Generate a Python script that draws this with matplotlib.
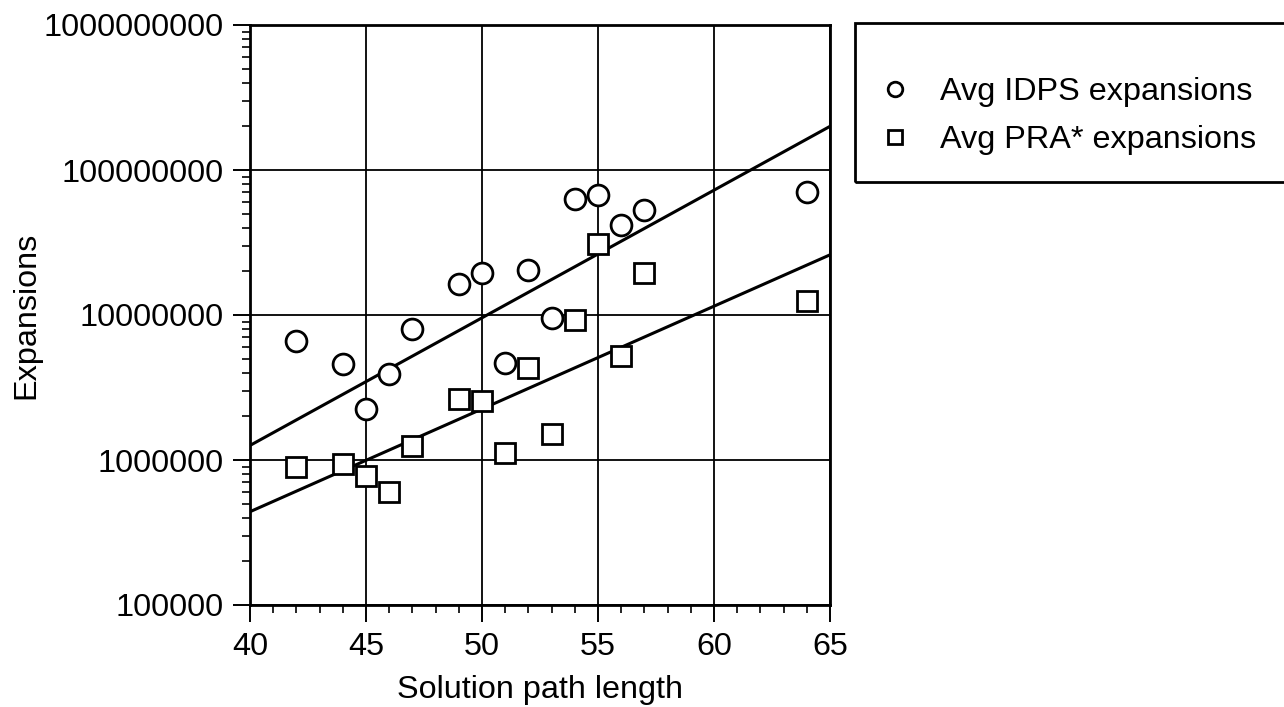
import numpy as np
import matplotlib
matplotlib.use("Agg")
import matplotlib.pyplot as plt
from matplotlib.ticker import FixedLocator, FuncFormatter, LogLocator, NullFormatter
from matplotlib.patches import Rectangle

plt.rcParams["font.family"] = ["Liberation Sans", "DejaVu Sans"]

# solution path length of each problem group
path_len = [42, 44, 45, 46, 47, 49, 50, 51, 52, 53, 54, 55, 56, 57, 64]

# average expansions
idps_exp = [6.6e6, 4.6e6, 2.25e6, 3.9e6, 8.0e6, 1.63e7, 1.96e7, 4.7e6,
            2.04e7, 9.6e6, 6.3e7, 6.7e7, 4.2e7, 5.3e7, 7.1e7]
pra_exp = [8.9e5, 9.4e5, 7.7e5, 6.0e5, 1.24e6, 2.64e6, 2.54e6, 1.12e6,
           4.3e6, 1.5e6, 9.2e6, 3.1e7, 5.2e6, 1.96e7, 1.24e7]

# fitted trend lines (ends at x = 40 and x = 65)
fit_x = [40, 65]
idps_fit = [1.26e6, 2.0e8]
pra_fit = [4.4e5, 2.6e7]

x_ticks = [40, 45, 50, 55, 60, 65]
y_ticks = [1e5, 1e6, 1e7, 1e8, 1e9]

FS = 23.3

fig = plt.figure(figsize=(12.84, 7.07), dpi=100)
ax = fig.add_axes([250 / 1284, 1 - 605 / 707, 580 / 1284, 580 / 707])

ax.plot(fit_x, idps_fit, color="black", lw=2.2, zorder=2)
ax.plot(fit_x, pra_fit, color="black", lw=2.2, zorder=2)

ax.plot(path_len, idps_exp, linestyle="none", marker="o", markersize=15,
        markerfacecolor="white", markeredgecolor="black", markeredgewidth=2.0,
        zorder=3, label="Avg IDPS expansions")
ax.plot(path_len, pra_exp, linestyle="none", marker="s", markersize=15,
        markerfacecolor="white", markeredgecolor="black", markeredgewidth=2.0,
        zorder=3, label="Avg PRA* expansions")

ax.set_yscale("log")
ax.set_xlim(40, 65)
ax.set_ylim(1e5, 1e9)

ax.xaxis.set_major_locator(FixedLocator(x_ticks))
ax.xaxis.set_minor_locator(FixedLocator(np.arange(40, 66, 1)))
ax.yaxis.set_major_locator(FixedLocator(y_ticks))
ax.yaxis.set_minor_locator(LogLocator(base=10, subs=np.arange(2, 10)))
ax.yaxis.set_major_formatter(FuncFormatter(lambda v, p: f"{int(round(v))}"))
ax.yaxis.set_minor_formatter(NullFormatter())

ax.tick_params(axis="both", which="major", length=12, width=1.4,
               labelsize=FS, direction="out", color="black")
ax.tick_params(axis="both", which="minor", length=6, width=1.2,
               direction="out", color="black")
ax.tick_params(axis="y", which="major", pad=7)
ax.tick_params(axis="x", which="major", pad=7.5)

ax.grid(True, which="major", color="black", lw=1.3)
for s in ax.spines.values():
    s.set_linewidth(2.0)

ax.set_xlabel("Solution path length", fontsize=FS)
ax.set_ylabel("Expansions", fontsize=FS)
ax.xaxis.set_label_coords(0.5, -0.12)
ax.yaxis.set_label_coords(-0.36, 0.5)

# legend box running off the right edge
fig.patches.append(Rectangle((855 / 1284, 1 - 182 / 707), 0.5, 159 / 707,
                             transform=fig.transFigure, fill=False,
                             edgecolor="black", lw=2.0))
fig.legend(loc="upper left", bbox_to_anchor=(879 / 1284, 1 - 77 / 707),
           frameon=False, fontsize=FS, markerscale=0.7, handlelength=1.0,
           handletextpad=0.88, borderpad=0, borderaxespad=0,
           labelspacing=0.57)

fig.savefig("out.png", dpi=100)
